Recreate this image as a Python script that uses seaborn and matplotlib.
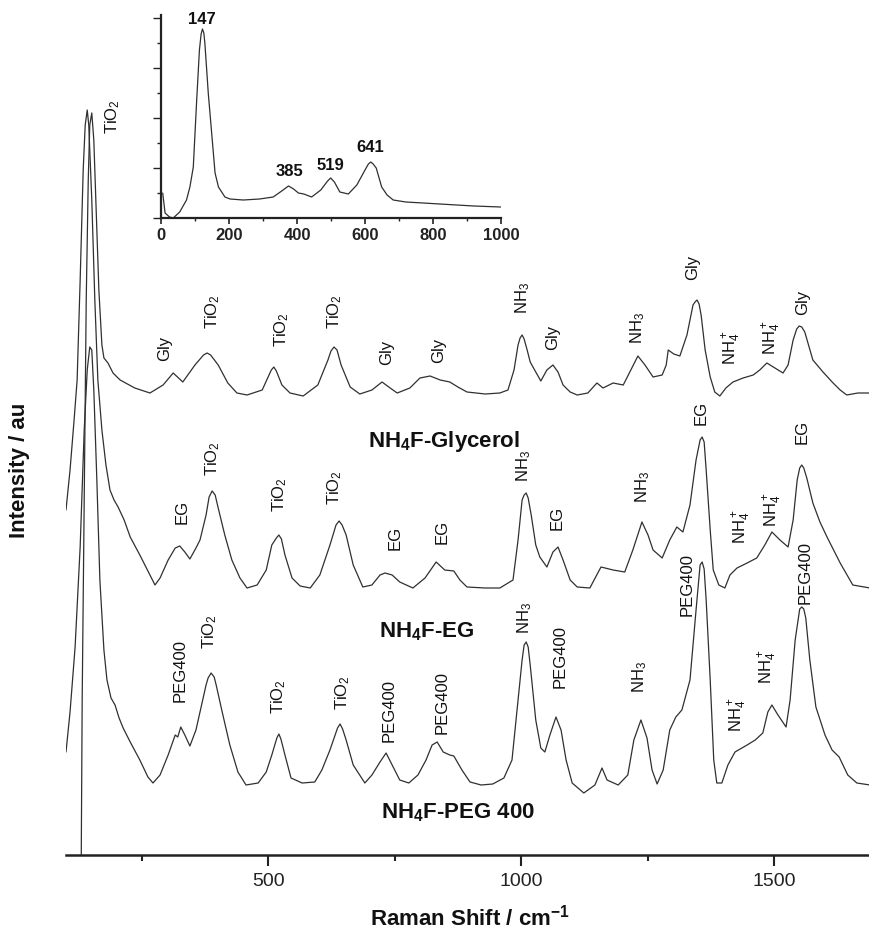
import numpy as np
import pandas as pd
import matplotlib
matplotlib.use("Agg")
import matplotlib.pyplot as plt
import seaborn as sns
from matplotlib.ticker import MultipleLocator

# ---------------- data (Raman shift in cm-1, intensity in a.u.) ----------------
gly_x = [130, 132, 136, 140, 144, 147, 151, 155, 159, 165, 171, 175, 183, 193, 207, 236, 266,
         292, 312, 331, 355, 372, 379, 386, 401, 420, 438, 458, 488, 506, 511, 516, 527, 543,
         569, 598, 618, 624, 630, 636, 644, 662, 681, 705, 725, 741, 755, 780, 800, 820, 840,
         859, 875, 893, 929, 958, 974, 986, 994, 998, 1002, 1006, 1012, 1018, 1029, 1039, 1051,
         1063, 1073, 1083, 1097, 1111, 1132, 1150, 1162, 1182, 1202, 1215, 1231, 1245, 1261,
         1279, 1287, 1291, 1302, 1314, 1328, 1340, 1344, 1348, 1352, 1356, 1364, 1374, 1383,
         1393, 1405, 1419, 1439, 1459, 1472, 1486, 1502, 1518, 1528, 1538, 1545, 1550, 1555,
         1561, 1577, 1597, 1617, 1631, 1644, 1666, 1690]
gly_i = [-475, -305, -105, 95, 215, 270, 282, 255, 195, 105, 50, 37, 32, 22, 15, 7, 2,
         10, 22, 13, 30, 40, 42, 40, 30, 12, 2, 0, 5, 25, 28, 24, 10, 2,
         -1, 10, 35, 44, 48, 45, 30, 8, 1, 5, 13, 7, 2, 7, 17, 19, 15,
         13, 8, 3, 1, 2, 5, 25, 50, 57, 60, 56, 45, 33, 23, 14, 25,
         30, 23, 10, 3, 0, 2, 12, 7, 12, 10, 23, 39, 30, 18,
         20, 30, 45, 41, 39, 60, 90, 93, 95, 91, 80, 45, 18, 3,
         -1, 7, 13, 17, 20, 25, 32, 27, 22, 30, 55, 66, 69, 68,
         63, 35, 23, 12, 5, 0, 2, 2]

eg_x = [100, 108, 116, 122, 128, 134, 138, 142, 145, 151, 157, 163, 171, 179, 187, 195, 203,
        215, 227, 246, 266, 276, 286, 302, 316, 325, 335, 345, 357, 365, 377, 383, 389, 395,
        401, 414, 428, 444, 458, 478, 496, 507, 516, 521, 526, 533, 547, 563, 583, 602, 622,
        634, 640, 646, 654, 668, 687, 705, 721, 731, 745, 760, 786, 810, 832, 849, 867, 879,
        893, 929, 958, 984, 994, 1002, 1006, 1010, 1014, 1020, 1029, 1037, 1051, 1063, 1073,
        1083, 1097, 1111, 1136, 1158, 1182, 1205, 1221, 1239, 1251, 1261, 1279, 1294, 1308,
        1320, 1334, 1346, 1354, 1358, 1362, 1366, 1374, 1380, 1391, 1403, 1413, 1427, 1447,
        1466, 1482, 1496, 1512, 1528, 1538, 1546, 1551, 1555, 1559, 1565, 1577, 1591, 1605,
        1631, 1656, 1690]
eg_i = [80, 120, 170, 210, 310, 420, 465, 480, 465, 390, 290, 210, 160, 125, 100, 90, 83,
        70, 53, 35, 15, 5, 12, 30, 42, 44, 38, 31, 42, 50, 75, 93, 99, 95,
        82, 55, 30, 12, 2, 5, 20, 45, 52, 55, 51, 35, 12, 4, 2, 15, 45,
        65, 69, 65, 55, 25, 3, 5, 15, 17, 15, 8, 2, 12, 28, 20, 19, 10,
        3, 2, 2, 10, 50, 90, 95, 97, 92, 75, 45, 33, 23, 38, 43,
        30, 10, 3, 2, 23, 20, 18, 40, 68, 55, 40, 32, 50, 63,
        58, 85, 130, 150, 153, 148, 120, 60, 20, 5, 2, 15, 22, 27,
        32, 45, 58, 50, 43, 70, 110, 122, 125, 122, 112, 87, 68, 53,
        27, 5, 2]

peg_x = [100, 108, 118, 128, 136, 142, 147, 151, 155, 161, 167, 175, 181, 189, 197, 205, 213,
         227, 246, 262, 272, 286, 302, 316, 321, 327, 335, 345, 357, 365, 377, 381, 387, 393,
         397, 408, 424, 440, 456, 480, 496, 507, 517, 521, 525, 533, 545, 567, 592, 606, 622,
         637, 642, 647, 654, 668, 691, 705, 721, 733, 745, 760, 778, 796, 812, 824, 834, 846,
         859, 867, 883, 899, 921, 944, 966, 982, 994, 1002, 1006, 1010, 1014, 1018, 1029, 1039,
         1047, 1057, 1069, 1079, 1089, 1101, 1124, 1146, 1160, 1170, 1192, 1211, 1223, 1237,
         1249, 1259, 1269, 1281, 1294, 1306, 1318, 1334, 1346, 1354, 1358, 1362, 1366, 1374,
         1381, 1387, 1397, 1409, 1423, 1447, 1463, 1478, 1488, 1496, 1508, 1524, 1532, 1542,
         1551, 1555, 1559, 1563, 1571, 1583, 1601, 1615, 1629, 1646, 1664, 1690]
peg_i = [33, 73, 138, 238, 355, 415, 438, 435, 395, 305, 205, 135, 105, 87, 80, 67, 57,
         43, 25, 8, 2, 10, 30, 50, 48, 58, 50, 39, 55, 73, 100, 107, 112, 108,
         100, 75, 40, 13, 0, 2, 13, 30, 47, 51, 46, 30, 7, 2, 3, 15, 35,
         57, 61, 56, 45, 20, 2, 10, 23, 32, 20, 5, 2, 10, 25, 40, 43, 33,
         30, 29, 15, 3, 0, 1, 7, 25, 85, 125, 140, 143, 138, 120, 65, 37,
         33, 50, 68, 55, 25, 2, -8, 0, 17, 5, 0, 10, 45, 65,
         47, 15, 1, 15, 55, 68, 75, 105, 175, 220, 223, 216, 185, 105,
         25, 2, 2, 20, 33, 40, 45, 52, 73, 80, 70, 58, 85, 145,
         176, 178, 176, 167, 125, 78, 50, 35, 28, 10, 2, 0]

spectra_names = ["NH$_4$F-Glycerol", "NH$_4$F-EG", "NH$_4$F-PEG 400"]
spectra_offsets = [460, 265, 70]

# inset: TiO2 spectrum
inset_x = [5, 12, 25, 36, 55, 75, 85, 95, 105, 113, 118, 122, 126, 129, 139, 149, 159, 169,
           188, 203, 242, 290, 330, 355, 375, 390, 404, 420, 443, 470, 490, 499, 510, 526,
           551, 576, 600, 610, 617, 624, 633, 649, 665, 683, 720, 771, 820, 870, 920, 999]
inset_y = [25, 5, 1, 0, 6, 18, 31, 51, 118, 168, 184, 189, 185, 175, 125, 85, 45, 31,
           21, 19, 18, 19, 21, 27, 32, 29, 25, 24, 21, 28, 37, 40, 36, 26,
           24, 33, 48, 54, 56, 54, 50, 31, 23, 18, 16, 15, 14, 13, 12, 11]
inset_peak_labels = ["147", "385", "519", "641"]
inset_peak_pos = [(121, 199), (379, 46), (497, 53), (615, 70)]

# peak assignments (label, x, y) for each row
gly_labels = ["Gly", "TiO$_2$", "TiO$_2$", "TiO$_2$", "Gly", "Gly", "NH$_3$", "Gly", "NH$_3$",
              "Gly", "NH$_4^+$", "NH$_4^+$", "Gly"]
gly_label_pos = [(296, 507), (391, 543), (527, 525), (632, 543), (735, 503), (836, 505),
                 (1004, 557), (1063, 518), (1231, 527), (1340, 588), (1417, 507), (1496, 517),
                 (1557, 553)]
eg_labels = ["EG", "TiO$_2$", "TiO$_2$", "TiO$_2$", "EG", "EG", "NH$_3$", "EG", "NH$_3$",
             "EG", "NH$_4^+$", "NH$_4^+$", "EG"]
eg_label_pos = [(329, 343), (391, 396), (523, 360), (632, 367), (751, 317), (844, 323),
                (1006, 389), (1071, 337), (1241, 368), (1356, 442), (1437, 328), (1498, 345),
                (1555, 423)]
peg_labels = ["PEG400", "TiO$_2$", "TiO$_2$", "TiO$_2$", "PEG400", "PEG400", "NH$_3$", "PEG400",
              "NH$_3$", "PEG400", "NH$_4^+$", "NH$_4^+$", "PEG400"]
peg_label_pos = [(325, 185), (385, 223), (521, 158), (648, 162), (739, 145), (844, 153),
                 (1008, 237), (1077, 198), (1235, 178), (1328, 270), (1429, 140), (1488, 188),
                 (1561, 282)]
name_pos = [(848, 413), (814, 223), (875, 42)]
big_tio2_pos = (193, 738)

# ---------------- style ----------------
sns.set_theme(style="ticks")
plt.rcParams["font.family"] = ["Liberation Sans", "DejaVu Sans"]
plt.rcParams["mathtext.default"] = "regular"

line_color = "#303030"
fig = plt.figure(figsize=(8.7, 9.34), dpi=100)
ax = fig.add_axes([66 / 870, 79 / 934, 804 / 870, 755 / 934])

for xs, ys, off in zip([gly_x, eg_x, peg_x], [gly_i, eg_i, peg_i], spectra_offsets):
    df = pd.DataFrame({"shift": xs, "intensity": np.array(ys, dtype=float) + off})
    sns.lineplot(data=df, x="shift", y="intensity", ax=ax, color=line_color,
                 linewidth=0.9, estimator=None, sort=True)

ax.set_xlim(100, 1690)
ax.set_ylim(0, 755)
for s in ["left", "top", "right"]:
    ax.spines[s].set_visible(False)
ax.spines["bottom"].set_linewidth(1.8)
ax.spines["bottom"].set_color("#222222")
ax.set_yticks([])
ax.xaxis.set_major_locator(MultipleLocator(500))
ax.xaxis.set_minor_locator(MultipleLocator(250))
ax.tick_params(axis="x", which="major", length=8, width=1.5, direction="out",
               labelsize=14, pad=5, colors="#222222")
ax.tick_params(axis="x", which="minor", length=4, width=1.5, direction="out", colors="#222222")
ax.set_xlabel("")
ax.set_ylabel("")

lab_kw = dict(rotation=90, ha="center", va="center", fontsize=12, color="#111111")
for labels, poss in [(gly_labels, gly_label_pos), (eg_labels, eg_label_pos),
                     (peg_labels, peg_label_pos)]:
    for t, (px, py) in zip(labels, poss):
        ax.text(px, py, t, **lab_kw)
ax.text(big_tio2_pos[0], big_tio2_pos[1], "TiO$_2$", **lab_kw)

for t, (px, py) in zip(spectra_names, name_pos):
    ax.text(px, py, t, ha="center", va="center", fontsize=16, fontweight="bold", color="#111111")

fig.text(470 / 870, 1 - 918 / 934, "Raman Shift / cm$^{-1}$", ha="center", va="center",
         fontsize=16, fontweight="bold", color="#111111")
fig.text(20 / 870, 1 - 470 / 934, "Intensity / au", ha="center", va="center", rotation=90,
         fontsize=16, fontweight="bold", color="#111111")

# ---------------- inset ----------------
ins = fig.add_axes([161 / 870, 1 - 218 / 934, 340 / 870, 203 / 934])
sns.lineplot(x=inset_x, y=inset_y, ax=ins, color=line_color, linewidth=0.9,
             estimator=None, sort=True)
ins.set_xlim(0, 1000)
ins.set_ylim(0, 203)
ins.patch.set_alpha(0)
for s in ["top", "right"]:
    ins.spines[s].set_visible(False)
for s in ["left", "bottom"]:
    ins.spines[s].set_linewidth(1.6)
    ins.spines[s].set_color("#222222")
ins.xaxis.set_major_locator(MultipleLocator(200))
ins.xaxis.set_minor_locator(MultipleLocator(100))
ins.yaxis.set_major_locator(MultipleLocator(50))
ins.yaxis.set_minor_locator(MultipleLocator(25))
ins.tick_params(axis="x", which="major", length=4, width=1.2, direction="out",
                labelsize=12, pad=3, colors="#222222")
ins.tick_params(axis="x", which="minor", length=2.5, width=1.0, direction="out", colors="#222222")
ins.tick_params(axis="y", which="major", length=6, width=1.0, direction="out",
                labelleft=False, colors="#222222")
ins.tick_params(axis="y", which="minor", length=3, width=1.0, direction="out", colors="#222222")
for lbl in ins.get_xticklabels():
    lbl.set_fontweight("bold")
ins.set_xlabel("")
ins.set_ylabel("")
for t, (px, py) in zip(inset_peak_labels, inset_peak_pos):
    ins.text(px, py, t, ha="center", va="center", fontsize=12, fontweight="bold",
             color="#111111", clip_on=False)

fig.savefig("out.png", dpi=100)
